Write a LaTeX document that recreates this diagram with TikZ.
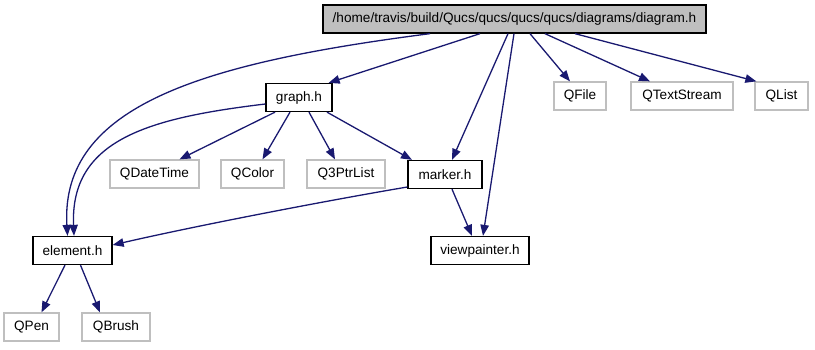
\documentclass[tikz,border=0pt]{standalone}
\usepackage{fontspec}
\setmainfont{Liberation Sans}
\usetikzlibrary{arrows, arrows.meta}

\definecolor{edgeblue}{RGB}{25,25,112}
\definecolor{boxgray}{RGB}{191,191,191}

\begin{document}
\begin{tikzpicture}[x=1pt, y=-1pt]

\useasboundingbox (0, 0) rectangle (815, 349) ;

\def\boxheight{28}

\tikzstyle{file box} = [draw=black, line width=1.3pt, fill=white, minimum height=\boxheight, inner sep=0pt, font=\fontsize{13.6}{16}\selectfont]
\tikzstyle{root box} = [file box, fill=boxgray]
\tikzstyle{qt box} = [file box, draw=boxgray]
\tikzstyle{include} = [line width=1.3pt, color=edgeblue, -{Triangle[length=11pt, width=8.5pt]}]

% files

\node [root box, minimum width=383] (diagram) at (514.5, 19) {/home/travis/build/Qucs/qucs/qucs/qucs/diagrams/diagram.h} ;

\node [file box, minimum width=66] (graph) at (299, 97.5) {graph.h} ;
\node [qt box, minimum width=52] (qfile) at (580, 96) {QFile} ;
\node [qt box, minimum width=102] (qtextstream) at (682, 96) {QTextStream} ;
\node [qt box, minimum width=53] (qlist) at (781.5, 96) {QList} ;

\node [qt box, minimum width=89] (qdatetime) at (154.5, 174) {QDateTime} ;
\node [qt box, minimum width=63] (qcolor) at (252.5, 174) {QColor} ;
\node [qt box, minimum width=78] (qptrlist) at (346, 174) {Q3PtrList} ;
\node [file box, minimum width=74] (marker) at (445, 174.5) {marker.h} ;

\node [file box, minimum width=79] (element) at (72.5, 250.5) {element.h} ;
\node [file box, minimum width=98] (viewpainter) at (480, 250.5) {viewpainter.h} ;

\node [qt box, minimum width=55] (qpen) at (31.5, 327) {QPen} ;
\node [qt box, minimum width=68] (qbrush) at (116, 327) {QBrush} ;

% includes of diagram.h

\draw [include] ([xshift=-84.5]diagram.south)
	.. controls +(-225, 29) and +(-7.5, -131) .. ([xshift=-5]element.north) ;
\draw [include] ([xshift=-34.5]diagram.south) -- ([xshift=-4]graph.north east) ;
\draw [include] ([xshift=-6.5]diagram.south) -- ([xshift=7]marker.north) ;
\draw [include] ([xshift=-0.5]diagram.south) -- ([xshift=3]viewpainter.north) ;
\draw [include] ([xshift=15.5]diagram.south) -- ([xshift=-10]qfile.north) ;
\draw [include] ([xshift=30.5]diagram.south) -- ([xshift=-32]qtextstream.north) ;
\draw [include] ([xshift=60.5]diagram.south) -- ([xshift=2]qlist.north west) ;

% includes of graph.h

\draw [include] ([yshift=-6.5]graph.west)
	.. controls +(-117, 14) and +(-4, -96) .. ([xshift=1.5]element.north) ;
\draw [include] ([xshift=-24]graph.south) -- ([xshift=25]qdatetime.north) ;
\draw [include] ([xshift=-9]graph.south) -- ([xshift=10]qcolor.north) ;
\draw [include] ([xshift=10]graph.south) -- ([xshift=-11]qptrlist.north) ;
\draw [include] ([xshift=28]graph.south) -- ([xshift=-33]marker.north) ;

% includes of marker.h

\draw [include] ([yshift=-12.5]marker.west)
	.. controls +(-77, 13) and +(87, -20) .. ([yshift=5.5]element.east) ;
\draw [include] ([xshift=7]marker.south) -- ([xshift=-8]viewpainter.north) ;

% includes of element.h

\draw [include] ([xshift=-7.5]element.south) -- ([xshift=10]qpen.north) ;
\draw [include] ([xshift=8]element.south) -- ([xshift=-16]qbrush.north) ;

\end{tikzpicture}
\end{document}
